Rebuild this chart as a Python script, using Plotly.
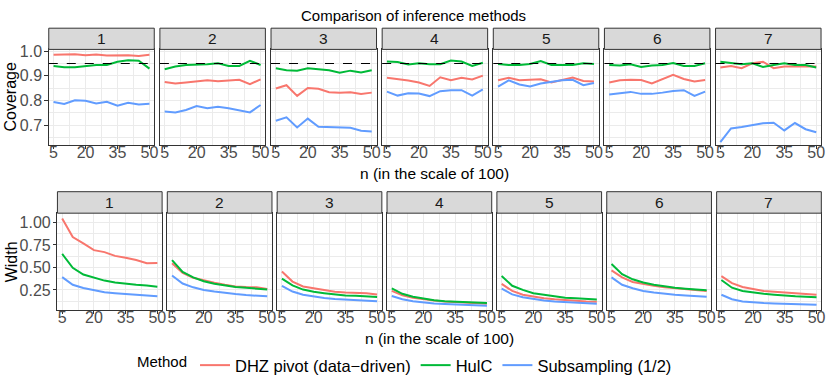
import plotly.graph_objects as go

# ---------------- data ----------------
n_values = [5, 10, 15, 20, 25, 30, 35, 40, 45, 50]
x_ticks = [5, 20, 35, 50]
panels = ["1", "2", "3", "4", "5", "6", "7"]
methods = ["DHZ pivot (data\u2212driven)", "HulC", "Subsampling (1/2)"]
target_coverage = 0.95

cov_dhz = [
    [0.985, 0.986, 0.987, 0.983, 0.986, 0.982, 0.984, 0.983, 0.980, 0.985],
    [0.875, 0.869, 0.873, 0.878, 0.882, 0.878, 0.882, 0.884, 0.866, 0.886],
    [0.849, 0.862, 0.819, 0.851, 0.848, 0.834, 0.832, 0.834, 0.827, 0.832],
    [0.892, 0.888, 0.881, 0.873, 0.859, 0.894, 0.882, 0.892, 0.885, 0.901],
    [0.882, 0.892, 0.882, 0.884, 0.886, 0.873, 0.882, 0.893, 0.879, 0.877],
    [0.873, 0.882, 0.884, 0.883, 0.869, 0.886, 0.904, 0.887, 0.877, 0.883],
    [0.934, 0.940, 0.931, 0.951, 0.957, 0.931, 0.938, 0.940, 0.939, 0.938],
]
cov_hulc = [
    [0.940, 0.935, 0.935, 0.940, 0.944, 0.944, 0.957, 0.963, 0.961, 0.929],
    [0.927, 0.938, 0.944, 0.944, 0.947, 0.951, 0.940, 0.940, 0.961, 0.944],
    [0.931, 0.923, 0.921, 0.931, 0.927, 0.923, 0.913, 0.921, 0.914, 0.923],
    [0.958, 0.956, 0.946, 0.951, 0.947, 0.947, 0.962, 0.958, 0.940, 0.953],
    [0.948, 0.944, 0.944, 0.948, 0.960, 0.944, 0.944, 0.944, 0.951, 0.948],
    [0.944, 0.942, 0.947, 0.936, 0.942, 0.944, 0.952, 0.940, 0.940, 0.951],
    [0.957, 0.951, 0.947, 0.951, 0.936, 0.944, 0.951, 0.944, 0.944, 0.934],
]
cov_sub = [
    [0.794, 0.786, 0.801, 0.799, 0.788, 0.795, 0.779, 0.791, 0.784, 0.787],
    [0.756, 0.752, 0.762, 0.778, 0.769, 0.775, 0.769, 0.762, 0.752, 0.782],
    [0.718, 0.732, 0.691, 0.727, 0.694, 0.692, 0.690, 0.690, 0.678, 0.675],
    [0.836, 0.820, 0.829, 0.828, 0.818, 0.838, 0.842, 0.842, 0.820, 0.845],
    [0.856, 0.882, 0.865, 0.857, 0.869, 0.877, 0.882, 0.884, 0.862, 0.871],
    [0.824, 0.830, 0.835, 0.827, 0.827, 0.832, 0.839, 0.842, 0.819, 0.836],
    [0.632, 0.687, 0.693, 0.700, 0.708, 0.710, 0.679, 0.709, 0.684, 0.672],
]
wid_dhz = [
    [1.046, 0.839, 0.768, 0.693, 0.671, 0.629, 0.607, 0.582, 0.546, 0.550],
    [0.546, 0.439, 0.386, 0.354, 0.329, 0.307, 0.289, 0.282, 0.279, 0.261],
    [0.454, 0.343, 0.289, 0.268, 0.250, 0.229, 0.221, 0.221, 0.214, 0.200],
    [0.239, 0.189, 0.164, 0.146, 0.132, 0.121, 0.114, 0.111, 0.107, 0.096],
    [0.318, 0.239, 0.196, 0.175, 0.157, 0.146, 0.136, 0.129, 0.121, 0.118],
    [0.468, 0.389, 0.339, 0.314, 0.296, 0.279, 0.268, 0.257, 0.246, 0.239],
    [0.404, 0.325, 0.282, 0.257, 0.239, 0.229, 0.218, 0.211, 0.204, 0.196],
]
wid_hulc = [
    [0.650, 0.496, 0.421, 0.389, 0.354, 0.332, 0.318, 0.307, 0.300, 0.286],
    [0.582, 0.450, 0.389, 0.346, 0.318, 0.296, 0.282, 0.275, 0.268, 0.254],
    [0.375, 0.300, 0.254, 0.229, 0.214, 0.200, 0.189, 0.186, 0.179, 0.171],
    [0.268, 0.207, 0.175, 0.154, 0.136, 0.125, 0.118, 0.114, 0.111, 0.104],
    [0.404, 0.296, 0.250, 0.214, 0.196, 0.179, 0.164, 0.157, 0.150, 0.143],
    [0.539, 0.425, 0.368, 0.332, 0.307, 0.289, 0.275, 0.264, 0.254, 0.246],
    [0.361, 0.275, 0.239, 0.221, 0.207, 0.196, 0.186, 0.179, 0.175, 0.168],
]
wid_sub = [
    [0.393, 0.307, 0.271, 0.246, 0.225, 0.214, 0.204, 0.193, 0.186, 0.179],
    [0.411, 0.321, 0.279, 0.250, 0.232, 0.214, 0.204, 0.193, 0.186, 0.179],
    [0.296, 0.232, 0.196, 0.175, 0.161, 0.150, 0.143, 0.136, 0.129, 0.125],
    [0.182, 0.146, 0.125, 0.111, 0.100, 0.093, 0.089, 0.086, 0.082, 0.075],
    [0.264, 0.200, 0.168, 0.146, 0.132, 0.121, 0.114, 0.107, 0.104, 0.096],
    [0.389, 0.307, 0.268, 0.239, 0.221, 0.207, 0.196, 0.189, 0.182, 0.175],
    [0.196, 0.146, 0.121, 0.111, 0.104, 0.100, 0.096, 0.093, 0.089, 0.086],
]
cov_ticks = [0.7, 0.8, 0.9, 1.0]
wid_ticks = [0.25, 0.50, 0.75, 1.00]

# ---------------- styling ----------------
colors = ["#F8766D", "#00BA38", "#619CFF"]
FONT = "Liberation Sans, Arial, sans-serif"
W, H = 830, 383
BORDER = "#333333"
GRID = "#EBEBEB"
TICK_SIZE = 16


def fx(p):
    return p / W


def fy(p):
    return 1 - p / H


rows = [
    dict(data=[cov_dhz, cov_hulc, cov_sub], x0=49.0, step=111.67, w=106.0,
         top=44.0, bot=143.0, strip_top=22.0, rng=[0.621, 1.007],
         ticks=cov_ticks, fmt="{:.1f}", minor=[0.65, 0.75, 0.85, 0.95],
         ytitle="Coverage", ytitle_x=10.5, xtitle_y=172.5),
    dict(data=[wid_dhz, wid_hulc, wid_sub], x0=57.7, step=110.4, w=105.2,
         top=214.0, bot=314.0, strip_top=191.7, rng=[0.032, 1.104],
         ticks=wid_ticks, fmt="{:.2f}", minor=[0.125, 0.375, 0.625, 0.875],
         ytitle="Width", ytitle_x=11.0, xtitle_y=344.0),
]

fig = go.Figure()
layout = {}
shapes = []
annotations = []

for r, row in enumerate(rows):
    for i, pname in enumerate(panels):
        k = r * 7 + i + 1
        xid = "x" if k == 1 else f"x{k}"
        yid = "y" if k == 1 else f"y{k}"
        left = row["x0"] + i * row["step"]
        right = left + row["w"]
        for m in range(3):
            fig.add_trace(go.Scatter(
                x=n_values, y=row["data"][m][i], mode="lines",
                line=dict(color=colors[m], width=2),
                name=methods[m], legendgroup=methods[m],
                showlegend=(k == 1), xaxis=xid, yaxis=yid,
                hoverinfo="skip"))
        layout["xaxis" if k == 1 else f"xaxis{k}"] = dict(
            domain=[fx(left), fx(right)], anchor=yid,
            range=[2.75, 52.25], tickmode="array", tickvals=x_ticks,
            ticktext=[str(v) for v in x_ticks],
            ticks="outside", ticklen=3.5, tickcolor=BORDER, tickwidth=1,
            ticklabelstandoff=-10,
            tickfont=dict(family=FONT, size=TICK_SIZE, color="#4D4D4D"),
            showgrid=True, gridcolor=GRID, gridwidth=1.1,
            minor=dict(tickmode="array", tickvals=[12.5, 27.5, 42.5],
                       showgrid=True, gridcolor=GRID, gridwidth=0.55, ticks=""),
            showline=True, mirror=True, linecolor=BORDER, linewidth=1,
            zeroline=False, fixedrange=True)
        first = (i == 0)
        layout["yaxis" if k == 1 else f"yaxis{k}"] = dict(
            domain=[fy(row["bot"]), fy(row["top"])], anchor=xid,
            range=row["rng"], tickmode="array", tickvals=row["ticks"],
            ticktext=[row["fmt"].format(v) for v in row["ticks"]],
            showticklabels=first, ticks="outside" if first else "",
            ticklen=3.5, tickcolor=BORDER, tickwidth=1,
            ticklabelstandoff=-1,
            tickfont=dict(family=FONT, size=TICK_SIZE, color="#4D4D4D"),
            showgrid=True, gridcolor=GRID, gridwidth=1.1,
            minor=dict(tickmode="array", tickvals=row["minor"],
                       showgrid=True, gridcolor=GRID, gridwidth=0.55, ticks=""),
            showline=True, mirror=True, linecolor=BORDER, linewidth=1,
            zeroline=False, fixedrange=True)
        # strip
        shapes.append(dict(type="rect", xref="paper", yref="paper",
                           x0=fx(left), x1=fx(right),
                           y0=fy(row["top"]), y1=fy(row["strip_top"]),
                           fillcolor="#D9D9D9", line=dict(color=BORDER, width=1),
                           layer="above"))
        annotations.append(dict(text=pname, xref="paper", yref="paper",
                                x=fx((left + right) / 2),
                                y=fy((row["top"] + row["strip_top"]) / 2),
                                xanchor="center", yanchor="middle", showarrow=False,
                                font=dict(family=FONT, size=15.5, color="#1A1A1A")))
        if r == 0:
            shapes.append(dict(type="line", xref=f"{xid} domain", yref=yid,
                               x0=0, x1=1, y0=target_coverage, y1=target_coverage,
                               line=dict(color="black", width=1.1, dash="dash"),
                               layer="above"))
    # axis titles
    x_left = row["x0"]
    x_right = row["x0"] + 6 * row["step"] + row["w"]
    annotations.append(dict(text=row["ytitle"], xref="paper", yref="paper",
                            x=fx(row["ytitle_x"]), y=fy((row["top"] + row["bot"]) / 2),
                            textangle=-90, xanchor="center", yanchor="middle",
                            showarrow=False,
                            font=dict(family=FONT, size=16, color="black")))
    annotations.append(dict(text="n (in the scale of 100)", xref="paper", yref="paper",
                            x=fx((x_left + x_right) / 2), y=fy(row["xtitle_y"]),
                            xanchor="center", yanchor="middle", showarrow=False,
                            font=dict(family=FONT, size=15.5, color="black")))

annotations.append(dict(text="Comparison of inference methods", xref="paper", yref="paper",
                        x=0.5, y=fy(9), xanchor="center", yanchor="middle",
                        showarrow=False, font=dict(family=FONT, size=15, color="black")))

fig.update_layout(
    **layout,
    width=W, height=H,
    margin=dict(l=0, r=0, t=0, b=0),
    paper_bgcolor="white", plot_bgcolor="white",
    shapes=shapes, annotations=annotations,
    font=dict(family=FONT),
    legend=dict(orientation="h", x=0.4915, xanchor="center",
                y=fy(372), yanchor="middle",
                title=dict(text="Method", font=dict(family=FONT, size=15, color="black")),
                font=dict(family=FONT, size=16.5, color="black"),
                itemwidth=30, bgcolor="rgba(0,0,0,0)", tracegroupgap=0),
)

fig.write_html("out.html", config={"displayModeBar": False},
               post_script="document.body.style.margin='0px';document.body.style.padding='0px';")
